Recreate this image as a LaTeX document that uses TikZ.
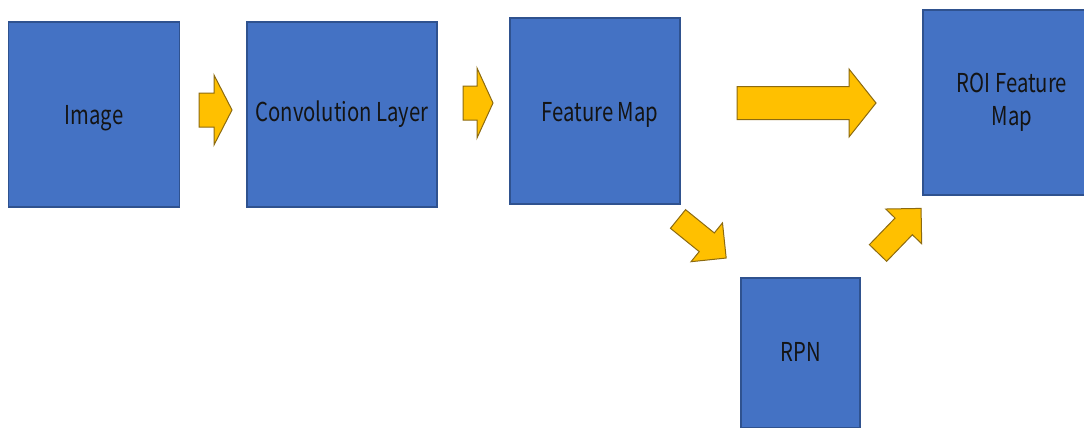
\documentclass[tikz,border=0pt]{standalone}
\usepackage{fontspec}
\setmainfont{Noto Sans CJK KR}
\newfontfamily\stagefont[FakeStretch=0.78]{Noto Sans CJK KR}
\newcommand\textdrop[2]{\raisebox{#1}[\height][\depth]{#2}}
\begin{document}
\begin{tikzpicture}[x=1pt,y=-1pt,
  stage/.style={draw=stageedge, line width=1.2pt, fill=stagefill,
    text=black!92, font=\stagefont\fontsize{26}{33}\selectfont, align=center,
    inner sep=0pt},
  arrowbody/.style={fill=flowfill, draw=flowedge, line width=1pt, line join=miter},
  pics/blockarrow/.style args={#1/#2/#3/#4}{code={
    % #1 total length, #2 shaft half width, #3 head half width, #4 head length
    \draw[arrowbody] (0,-#2) -- ({#1-#4},-#2) -- ({#1-#4},-#3) -- (#1,0)
      -- ({#1-#4},#3) -- ({#1-#4},#2) -- (0,#2) -- cycle;
  }}]
\definecolor{stagefill}{HTML}{4472C4}
\definecolor{stageedge}{HTML}{2F528F}
\definecolor{flowfill}{HTML}{FFC000}
\definecolor{flowedge}{HTML}{8C6A10}

\useasboundingbox (0,0) rectangle (1084,428);
\begin{scope}
\clip (0,0) rectangle (1084,428);

% processing stages
\node[stage, minimum width=171pt, minimum height=185pt] (img)  at (94,114.5)  {\textdrop{-4pt}{Image}};
\node[stage, minimum width=190pt, minimum height=185pt] (conv) at (342,114.5) {Convolution Layer};
\node[stage, minimum width=170pt, minimum height=186pt] (fmap) at (595,111)   {\textdrop{-4pt}{\hspace*{10pt}Feature Map}};
\node[stage, minimum width=178pt, minimum height=185pt] (roi)  at (1012,102.5) {ROI Feature\\Map};
\node[stage, minimum width=119pt, minimum height=150pt] (rpn)  at (800.5,353) {\textdrop{1.5pt}{RPN}};

% flow arrows between the stages
\pic at (199,110)  {blockarrow=33/17/35/18};
\pic at (463,103)  {blockarrow=30/17/35/16};
\pic at (737,103)  {blockarrow=139/16.5/34/27};
\pic[rotate=-39] at (678,219) {blockarrow=62/12/25/25};
\pic[rotate=46]  at (878,253) {blockarrow=62/12/25/25};
\end{scope}
\end{tikzpicture}
\end{document}
